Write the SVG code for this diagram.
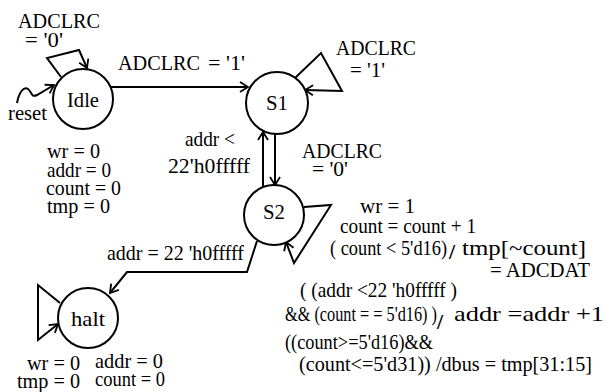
<svg xmlns="http://www.w3.org/2000/svg" width="614" height="392" viewBox="0 0 614 392">
<style>
text{font-family:'Liberation Serif','Times New Roman',serif;font-size:22px;fill:#000}
.st{fill:#fff;stroke:#000;stroke-width:2}
.e{fill:none;stroke:#000;stroke-width:2;marker-end:url(#ah)}
.c{text-anchor:middle}
.sl{font-weight:bold}
</style>
<defs>
<marker id="ah" markerUnits="userSpaceOnUse" markerWidth="14" markerHeight="14" refX="0" refY="0" viewBox="-10 -7 12 14" orient="auto" overflow="visible">
<path d="M-8,-5 L0,0 L-8,5" fill="none" stroke="#000" stroke-width="1.8"/>
</marker>
</defs>
<rect width="614" height="392" fill="#fff"/>
<g id="connectors">
<path class="e" d="M61,77 L47,58 L79,50 L87,68"/>
<path class="e" d="M17,103 C19,92 24,86 28,89 C32,92 31,98 37,95 L54,85"/>
<path class="e" d="M111,87 L248,87"/>
<path class="e" d="M295,78 L321,53 L342,91 L305,90"/>
<path class="e" d="M263,187 L263,132"/>
<path class="e" d="M275,134 L275,185"/>
<path class="e" d="M304,207 L331,205 L294,263 L286,242"/>
<path class="e" d="M257,241 L247,272 L127,272 L110,293"/>
<path class="e" d="M60,303 L38,285 L38,340 L58,324"/>
</g>
<g id="idle">
<circle class="st" cx="83" cy="99" r="30"/>
<text class="c" x="83" y="107" textLength="32" lengthAdjust="spacingAndGlyphs">Idle</text>
</g>
<g id="s1">
<circle class="st" cx="277" cy="103" r="31"/>
<text class="c" x="277" y="110" textLength="22" lengthAdjust="spacingAndGlyphs">S1</text>
</g>
<g id="s2">
<circle class="st" cx="274" cy="215" r="30"/>
<text class="c" x="274" y="219" textLength="22" lengthAdjust="spacingAndGlyphs">S2</text>
</g>
<g id="halt">
<circle class="st" cx="88" cy="318" r="30"/>
<text class="c" x="88" y="326" textLength="34" lengthAdjust="spacingAndGlyphs">halt</text>
</g>
<g id="labels">
<text x="18" y="28" textLength="82" lengthAdjust="spacingAndGlyphs">ADCLRC</text>
<text x="25" y="47" textLength="38" lengthAdjust="spacingAndGlyphs">= '0'</text>
<text x="8" y="120" textLength="39" lengthAdjust="spacingAndGlyphs">reset</text>
<text x="118" y="70" textLength="82" lengthAdjust="spacingAndGlyphs">ADCLRC</text>
<text x="208" y="70" textLength="37" lengthAdjust="spacingAndGlyphs">= '1'</text>
<text x="336" y="55" textLength="80" lengthAdjust="spacingAndGlyphs">ADCLRC</text>
<text x="350" y="77" textLength="35" lengthAdjust="spacingAndGlyphs">= '1'</text>
<text x="47" y="158" textLength="53" lengthAdjust="spacingAndGlyphs">wr = 0</text>
<text x="47" y="177" textLength="64" lengthAdjust="spacingAndGlyphs">addr = 0</text>
<text x="46" y="195" textLength="75" lengthAdjust="spacingAndGlyphs">count = 0</text>
<text x="47" y="213" textLength="63" lengthAdjust="spacingAndGlyphs">tmp = 0</text>
<text x="185" y="146" textLength="50" lengthAdjust="spacingAndGlyphs">addr &lt;</text>
<text x="168" y="173" textLength="82" lengthAdjust="spacingAndGlyphs">22'h0fffff</text>
<text x="302" y="158" textLength="80" lengthAdjust="spacingAndGlyphs">ADCLRC</text>
<text x="312" y="176" textLength="36" lengthAdjust="spacingAndGlyphs">= '0'</text>
<text x="360" y="213" textLength="55" lengthAdjust="spacingAndGlyphs">wr = 1</text>
<text x="340" y="233" textLength="136" lengthAdjust="spacingAndGlyphs">count = count + 1</text>
<text x="330" y="255" textLength="117" lengthAdjust="spacingAndGlyphs">( count &lt; 5'd16)</text>
<text class="sl" x="449" y="259" font-size="28">/</text>
<text x="462" y="255" textLength="124" lengthAdjust="spacingAndGlyphs">tmp[~count]</text>
<text x="490" y="277" textLength="100" lengthAdjust="spacingAndGlyphs">= ADCDAT</text>
<text x="300" y="297" textLength="157" lengthAdjust="spacingAndGlyphs">( (addr &lt;22 'h0fffff )</text>
<text x="285" y="321" textLength="152" lengthAdjust="spacingAndGlyphs">&amp;&amp; (count = = 5'd16) )</text>
<text class="sl" x="437" y="329" font-size="36">/</text>
<text x="454" y="321" font-size="19" textLength="150" lengthAdjust="spacingAndGlyphs">addr =addr +1</text>
<text x="285" y="349" textLength="148" lengthAdjust="spacingAndGlyphs">((count&gt;=5'd16)&amp;&amp;</text>
<text x="299" y="371" font-size="20" textLength="293" lengthAdjust="spacingAndGlyphs">(count&lt;=5'd31))  /dbus = tmp[31:15]</text>
<text x="107" y="260" textLength="137" lengthAdjust="spacingAndGlyphs">addr = 22 'h0fffff</text>
<text x="27" y="370" textLength="53" lengthAdjust="spacingAndGlyphs">wr = 0</text>
<text x="95" y="368" textLength="68" lengthAdjust="spacingAndGlyphs">addr = 0</text>
<text x="17" y="388" textLength="63" lengthAdjust="spacingAndGlyphs">tmp = 0</text>
<text x="95" y="386" textLength="70" lengthAdjust="spacingAndGlyphs">count = 0</text>
</g>
</svg>
